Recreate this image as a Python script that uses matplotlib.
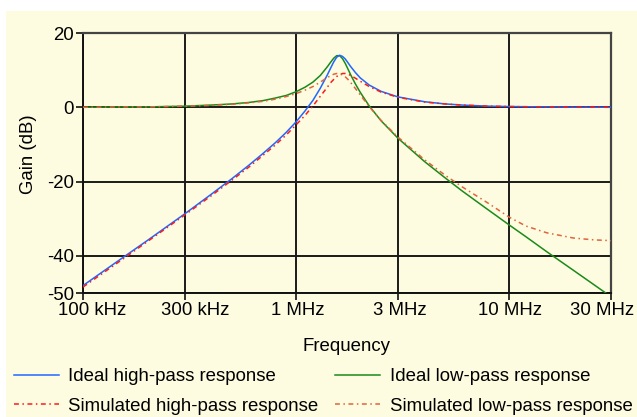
import matplotlib
matplotlib.use("Agg")
import matplotlib.pyplot as plt
from matplotlib.patches import Rectangle
from matplotlib.transforms import ScaledTranslation

# ---------------- data ----------------
freq_mhz = [0.1, 0.15, 0.2, 0.3, 0.4, 0.5, 0.6, 0.7, 0.8, 0.9, 1.0, 1.1, 1.2,
            1.3, 1.4, 1.45, 1.5, 1.55, 1.6, 1.65, 1.7, 1.75, 1.8, 1.9, 2.0,
            2.2, 2.5, 3.0, 4.0, 5.0, 6.0, 8.0, 10.0, 12.0, 15.0, 20.0, 25.0, 30.0]

ideal_hp = [-48.0, -40.9, -35.9, -28.7, -23.4, -19.2, -15.6, -12.4, -9.5, -6.7,
            -3.9, -1.0, 1.9, 5.2, 8.7, 10.5, 12.2, 13.5, 14.0, 13.7, 13.0, 12.0,
            11.0, 9.3, 7.9, 6.0, 4.3, 2.8, 1.5, 0.9, 0.6, 0.3, 0.2, 0.15, 0.1,
            0.05, 0.03, 0.0]

ideal_lp = [0.0, 0.1, 0.1, 0.3, 0.6, 0.9, 1.3, 1.8, 2.5, 3.2, 4.2, 5.4, 6.8,
            8.6, 10.9, 12.1, 13.2, 13.9, 13.9, 13.1, 11.8, 10.3, 8.8, 6.2, 4.0,
            0.4, -3.6, -8.3, -14.6, -19.0, -22.5, -27.7, -31.7, -34.9, -38.9,
            -43.9, -47.8, -51.0]

sim_hp = [-48.4, -41.3, -36.2, -29.0, -23.8, -19.6, -16.1, -12.9, -10.1, -7.4,
          -4.7, -2.2, 0.4, 3.0, 5.4, 6.6, 7.5, 8.3, 8.8, 9.1, 9.1, 8.9, 8.6,
          7.8, 7.0, 5.6, 4.1, 2.7, 1.4, 0.9, 0.6, 0.3, 0.2, 0.15, 0.1, 0.05,
          0.03, 0.0]

sim_lp = [0.0, 0.1, 0.1, 0.3, 0.5, 0.8, 1.2, 1.6, 2.2, 2.9, 3.7, 4.6, 5.6,
          6.8, 8.0, 8.5, 8.9, 9.1, 9.0, 8.7, 8.2, 7.5, 6.7, 5.0, 3.3, 0.2,
          -3.5, -8.0, -14.1, -18.3, -21.4, -25.9, -29.6, -32.0, -33.8, -35.2,
          -35.7, -35.9]

x_ticks_hz = [1e5, 3e5, 1e6, 3e6, 1e7, 3e7]
x_tick_labels = ["100 kHz", "300 kHz", "1 MHz", "3 MHz", "10 MHz", "30 MHz"]
y_ticks = [20, 0, -20, -40, -50]
y_tick_labels = ["20", "0", "-20", "-40", "-50"]

series_labels = ["Ideal high-pass response", "Simulated high-pass response",
                 "Ideal low-pass response", "Simulated low-pass response"]

# ---------------- style ----------------
BG = "#FDFCE0"
FS = 13.4
plt.rcParams["font.family"] = ["Liberation Sans", "DejaVu Sans"]
plt.rcParams["font.size"] = FS

W, H = 637, 417
fig = plt.figure(figsize=(W / 100, H / 100), dpi=100, facecolor="white")
fig.add_artist(Rectangle((6 / W, 0), 1 - 6 / W, 1 - 11 / H,
                         transform=fig.transFigure, facecolor=BG,
                         edgecolor="none", zorder=-10))

left, right, top, bottom = 83, 611, 33, 293
ax = fig.add_axes([left / W, 1 - bottom / H, (right - left) / W, (bottom - top) / H])
ax.set_facecolor(BG)

freq_hz = [f * 1e6 for f in freq_mhz]
dash_red = (0, (3.2, 2.3, 1.0, 2.3))
ax.plot(freq_hz, ideal_hp, color="#2266FF", lw=1.1, label=series_labels[0], zorder=4)
ax.plot(freq_hz, sim_hp, color="#FF1A1A", lw=1.1, ls=dash_red, label=series_labels[1], zorder=5)
ax.plot(freq_hz, ideal_lp, color="#1A8A1A", lw=1.1, label=series_labels[2], zorder=3)
ax.plot(freq_hz, sim_lp, color="#E0643C", lw=1.1, ls=dash_red, label=series_labels[3], zorder=5)

ax.set_xscale("log")
ax.set_xlim(1e5, 3e7)
ax.set_ylim(-50, 20)
ax.set_xticks(x_ticks_hz)
ax.set_xticklabels(x_tick_labels)
ax.minorticks_off()
ax.set_yticks(y_ticks)
ax.set_yticklabels(y_tick_labels)
ax.tick_params(axis="both", direction="out", length=5, width=1.2, color="#111111",
               labelsize=FS, pad=1.5)

# horizontal nudges of the x tick labels as laid out in the reference (pixels)
label_shift_px = [9, 10, 1.5, 1.5, 0.5, -8.5]
for lab, dx in zip(ax.get_xticklabels(), label_shift_px):
    lab.set_transform(lab.get_transform() + ScaledTranslation(dx / 100, 0, fig.dpi_scale_trans))

ax.grid(True, color="#1a1a1a", lw=1.4)
ax.set_axisbelow(True)
for s in ["left", "bottom"]:
    ax.spines[s].set_color("#111111")
    ax.spines[s].set_linewidth(1.4)
for s in ["top", "right"]:
    ax.spines[s].set_color("#444444")
    ax.spines[s].set_linewidth(1.6)

ax.set_xlabel("Frequency", labelpad=13.5)
ax.set_ylabel("Gain (dB)")
ax.yaxis.set_label_coords(-0.088, 0.535)

fig.legend(loc="upper left", bbox_to_anchor=(14 / W, 1 - 368 / H), ncol=2,
           frameon=False, handlelength=2.42, handletextpad=0.5,
           columnspacing=0.9, labelspacing=0.68, borderpad=0, borderaxespad=0,
           fontsize=FS)

fig.savefig("out.png", dpi=100, facecolor="white")
